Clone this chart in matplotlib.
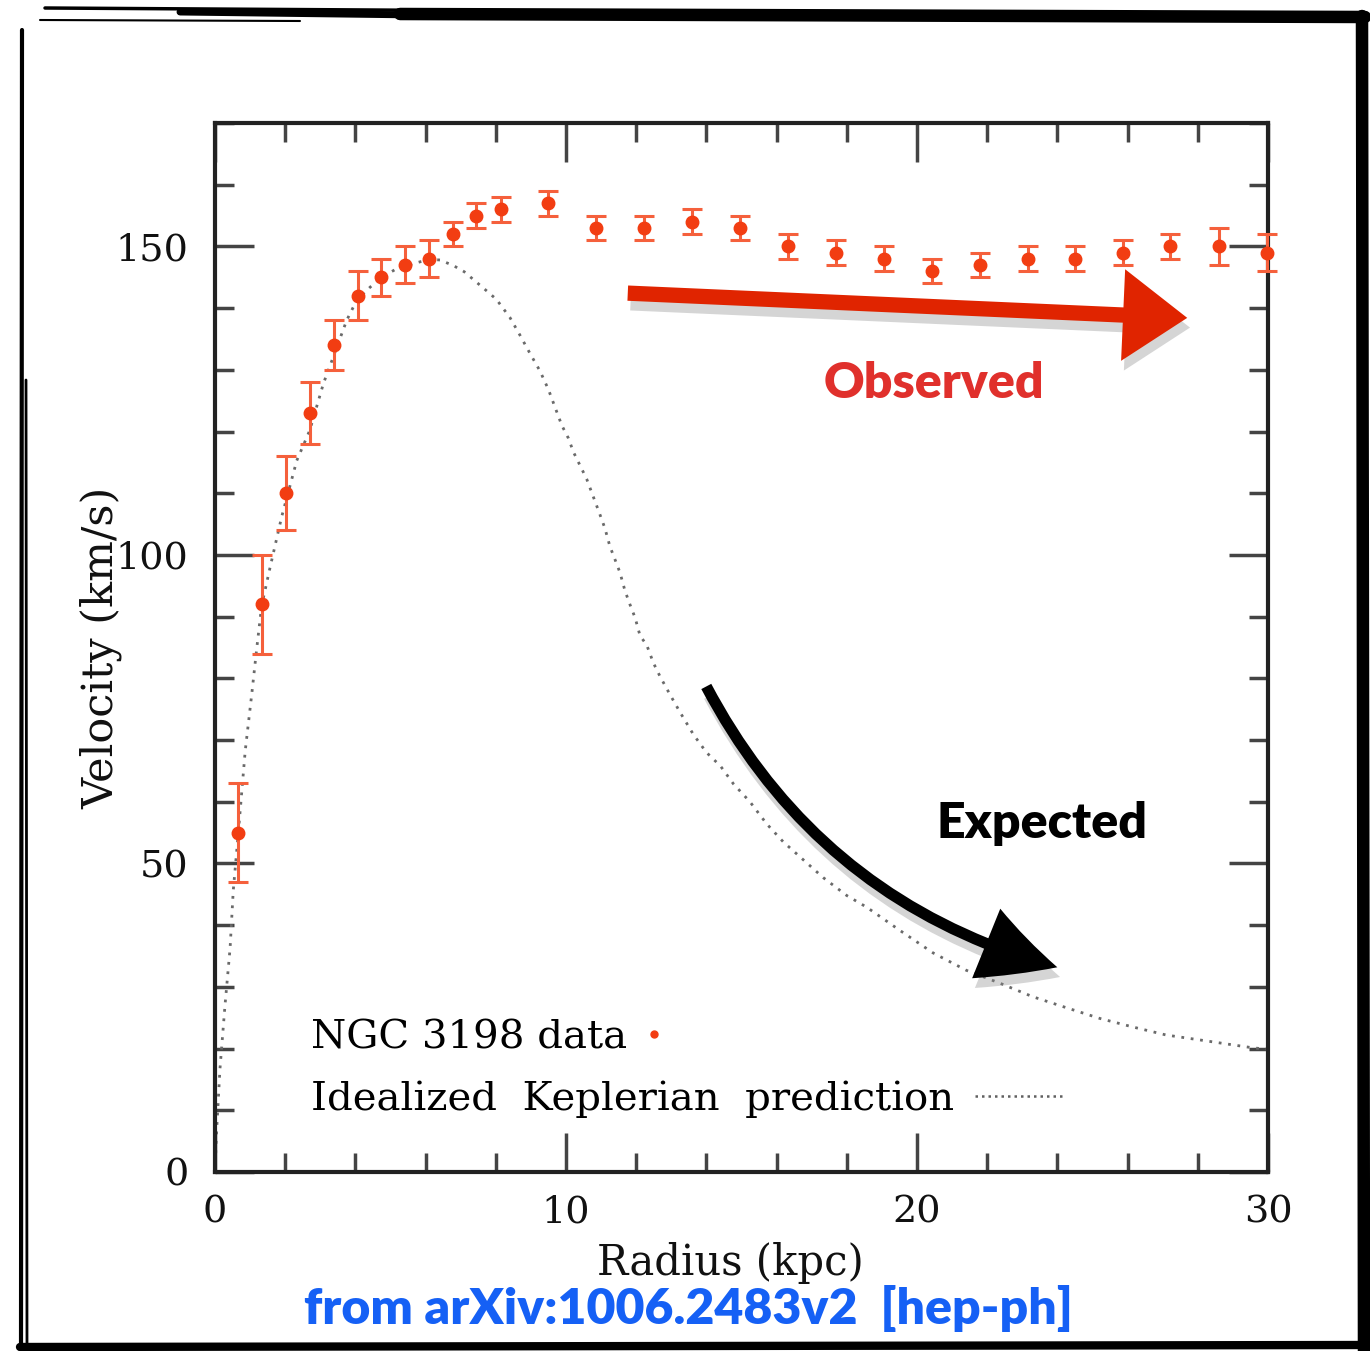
import matplotlib
matplotlib.use("Agg")
import matplotlib.pyplot as plt
import matplotlib.patheffects as pe
from matplotlib.lines import Line2D
from matplotlib.patches import FancyArrowPatch

# ---------------- data ----------------
radius = [0.66, 1.34, 2.02, 2.71, 3.39, 4.07, 4.74, 5.42, 6.10, 6.79, 7.45, 8.14,
          9.50, 10.86, 12.23, 13.60, 14.96, 16.33, 17.69, 19.06, 20.43, 21.79,
          23.15, 24.50, 25.86, 27.22, 28.60, 29.97]
velocity = [55.0, 92.0, 110.0, 123.0, 134.0, 142.0, 145.0, 147.0, 148.0, 152.0,
            155.0, 156.0, 157.0, 153.0, 153.0, 154.0, 153.0, 150.0, 149.0, 148.0,
            146.0, 147.0, 148.0, 148.0, 149.0, 150.0, 150.0, 149.0]
vel_err = [8, 8, 6, 5, 4, 4, 3, 3, 3, 2, 2, 2, 2, 2, 2, 2, 2, 2, 2, 2, 2, 2,
           2, 2, 2, 2, 3, 3]

kep_r = [0, 0.05, 0.14, 0.28, 0.43, 0.52, 0.66, 0.86, 1.05, 1.19, 1.33, 1.57,
         1.90, 2.33, 2.70, 3.09, 3.37, 3.75, 4.04, 4.42, 4.75, 5.18, 5.46, 5.84,
         6.13, 6.41, 6.79, 7.10, 7.45, 7.80, 8.02, 8.40, 8.69, 8.97, 9.26, 9.50,
         9.69, 9.88, 10.07, 10.21, 10.40, 10.59, 10.78, 10.97, 11.11, 11.25,
         11.40, 11.54, 11.68, 11.82, 11.97, 12.11, 12.30, 12.49, 12.68, 12.96,
         13.25, 13.63, 14.00, 14.40, 14.77, 15.24, 15.72, 16.19, 16.76, 17.33,
         18.00, 18.57, 19.50, 20.46, 21.40, 22.36, 23.30, 24.27, 25.20, 26.15,
         27.10, 28.06, 29.00, 29.60, 30.00]
kep_v = [0, 7.1, 16.6, 26.7, 36.3, 45.6, 54.7, 68.2, 77.6, 84.9, 91.8, 98.0,
         106.2, 115.3, 120.2, 127.8, 132.1, 138.0, 141.3, 143.4, 145.0, 146.4,
         146.9, 147.5, 147.9, 147.8, 146.9, 145.9, 144.2, 142.5, 141.4, 138.5,
         135.6, 132.7, 129.8, 126.8, 123.9, 121.0, 118.9, 116.7, 114.5, 112.3,
         109.4, 106.5, 104.3, 101.4, 99.2, 97.1, 94.2, 92.0, 89.8, 86.9, 85.4,
         82.5, 80.3, 77.4, 74.5, 70.9, 68.0, 65.8, 62.9, 60.0, 56.4, 53.5, 50.6,
         47.7, 44.8, 42.9, 39.2, 35.5, 32.7, 30.6, 28.4, 26.6, 24.9, 23.5, 22.2,
         21.4, 20.6, 20.1, 19.9]

x_major = [0, 10, 20, 30]
y_major = [0, 50, 100, 150]
data_label = "NGC 3198 data"
model_label = "Idealized  Keplerian  prediction"

W, H = 1370, 1351
fig = plt.figure(figsize=(W / 100, H / 100), dpi=100)
fig.patch.set_facecolor("white")


def fx(x):
    return x / W


def fy(y):
    return 1 - y / H


ax = fig.add_axes([fx(215), fy(1172), fx(1268) - fx(215), fy(123) - fy(1172)])
ax.set_xlim(0, 30)
ax.set_ylim(0, 170)

serif = ["DejaVu Serif"]
red = "#f23d12"

# Keplerian prediction (dotted)
ax.plot(kep_r, kep_v, linestyle=(0, (1, 2.4)), color="#6a6a6a", lw=2.0,
        zorder=2, clip_on=False)

# data with error bars
ax.errorbar(radius, velocity, yerr=vel_err, fmt="o", color=red, ms=9,
            ecolor="#f5603c", elinewidth=2.2, capsize=7, capthick=2.2,
            zorder=3, clip_on=False)

# ticks
ax.set_xticks(x_major)
ax.set_xticks(range(0, 31, 2), minor=True)
ax.set_yticks(y_major)
ax.set_yticks(range(0, 171, 10), minor=True)
ax.tick_params(which="both", direction="in", top=True, right=True,
               color="#444444")
ax.tick_params(which="major", length=28, width=2.5)
ax.tick_params(which="minor", length=14, width=2.5)
ax.tick_params(axis="y", which="major", pad=19)
ax.tick_params(axis="x", which="major", pad=16)
for lab in ax.get_xticklabels() + ax.get_yticklabels():
    lab.set_family(serif)
    lab.set_fontsize(27.5)
    lab.set_color("#111111")
for s in ax.spines.values():
    s.set_linewidth(3)
    s.set_color("#222222")

ax.set_xlabel("Radius (kpc)", family=serif, fontsize=30, color="#111111")
ax.set_ylabel("Velocity (km/s)", family=serif, fontsize=31, color="#111111")
ax.xaxis.set_label_coords(0.489, -0.087)
ax.xaxis.label.set_va("center")
ax.yaxis.set_label_coords(-0.108, 0.5)
ax.yaxis.label.set_va("center")

# legend (two single-entry legends, text first then key)
h_data = Line2D([], [], marker="o", ms=5, color=red, linestyle="none")
h_model = Line2D([], [], linestyle=(0, (1, 1.6)), color="#606060", lw=1.8)
leg1 = ax.legend([h_data], [data_label], markerfirst=False, frameon=False,
                 loc="center left", bbox_to_anchor=(0.0915, 0.128),
                 prop={"family": serif, "size": 29}, handlelength=0.4,
                 handletextpad=0.45, borderpad=0, borderaxespad=0)
ax.add_artist(leg1)
leg2 = ax.legend([h_model], [model_label], markerfirst=False, frameon=False,
                 loc="center left", bbox_to_anchor=(0.0915, 0.069),
                 prop={"family": serif, "size": 29}, handlelength=2.2,
                 handletextpad=0.5, borderpad=0, borderaxespad=0)

# annotations
shadow = [pe.SimplePatchShadow(offset=(2, -7), shadow_rgbFace="#888888",
                               alpha=0.35), pe.Normal()]
red_arrow = FancyArrowPatch(
    posA=((625 - 215) / 1053, (1172 - 293) / 1049),
    posB=((1190 - 215) / 1053, (1172 - 318) / 1049),
    transform=ax.transAxes,
    arrowstyle="simple,head_length=2.1,head_width=3.0,tail_width=0.5",
    mutation_scale=22, color="#e02400", lw=0, zorder=5)
red_arrow.set_path_effects(shadow)
ax.add_patch(red_arrow)

black_arrow = FancyArrowPatch(
    posA=((705 - 215) / 1053, (1172 - 684) / 1049),
    posB=((1060 - 215) / 1053, (1172 - 968) / 1049),
    transform=ax.transAxes, connectionstyle="arc3,rad=0.22",
    arrowstyle="simple,head_length=3.0,head_width=3.0,tail_width=0.45",
    mutation_scale=18, color="black", lw=0, zorder=5)
black_arrow.set_path_effects(shadow)
ax.add_patch(black_arrow)

fig.text(fx(934), fy(383), "Observed", color="#e0302c", fontsize=36,
         fontweight="heavy", family=["Lato", "DejaVu Sans"],
         ha="center", va="center")
fig.text(fx(1042), fy(823), "Expected", color="black", fontsize=36,
         fontweight="heavy", family=["Lato", "DejaVu Sans"],
         ha="center", va="center")
fig.text(fx(688), fy(1308), "from arXiv:1006.2483v2  [hep-ph]",
         color="#1560f5", fontsize=36, fontweight="heavy",
         family=["Lato", "DejaVu Sans"], ha="center", va="center")

# hand-drawn style frame
frame_kw = dict(transform=fig.transFigure, color="black",
                solid_capstyle="round")
fig.add_artist(Line2D([fx(400), fx(1365)], [fy(14), fy(17)], lw=9, **frame_kw))
fig.add_artist(Line2D([fx(180), fx(420)], [fy(12), fy(15)], lw=5, **frame_kw))
fig.add_artist(Line2D([fx(45), fx(700)], [fy(8), fy(12)], lw=2.5, **frame_kw))
fig.add_artist(Line2D([fx(40), fx(300)], [fy(20), fy(21)], lw=1.5, **frame_kw))
fig.add_artist(Line2D([fx(1362), fx(1364)], [fy(16), fy(1351)], lw=9, **frame_kw))
fig.add_artist(Line2D([fx(22), fx(21)], [fy(30), fy(1351)], lw=3, **frame_kw))
fig.add_artist(Line2D([fx(26), fx(27)], [fy(380), fy(1351)], lw=2, **frame_kw))
fig.add_artist(Line2D([fx(20), fx(1365)], [fy(1347), fy(1345)], lw=6, **frame_kw))

fig.savefig("out.png", dpi=100, facecolor="white")
